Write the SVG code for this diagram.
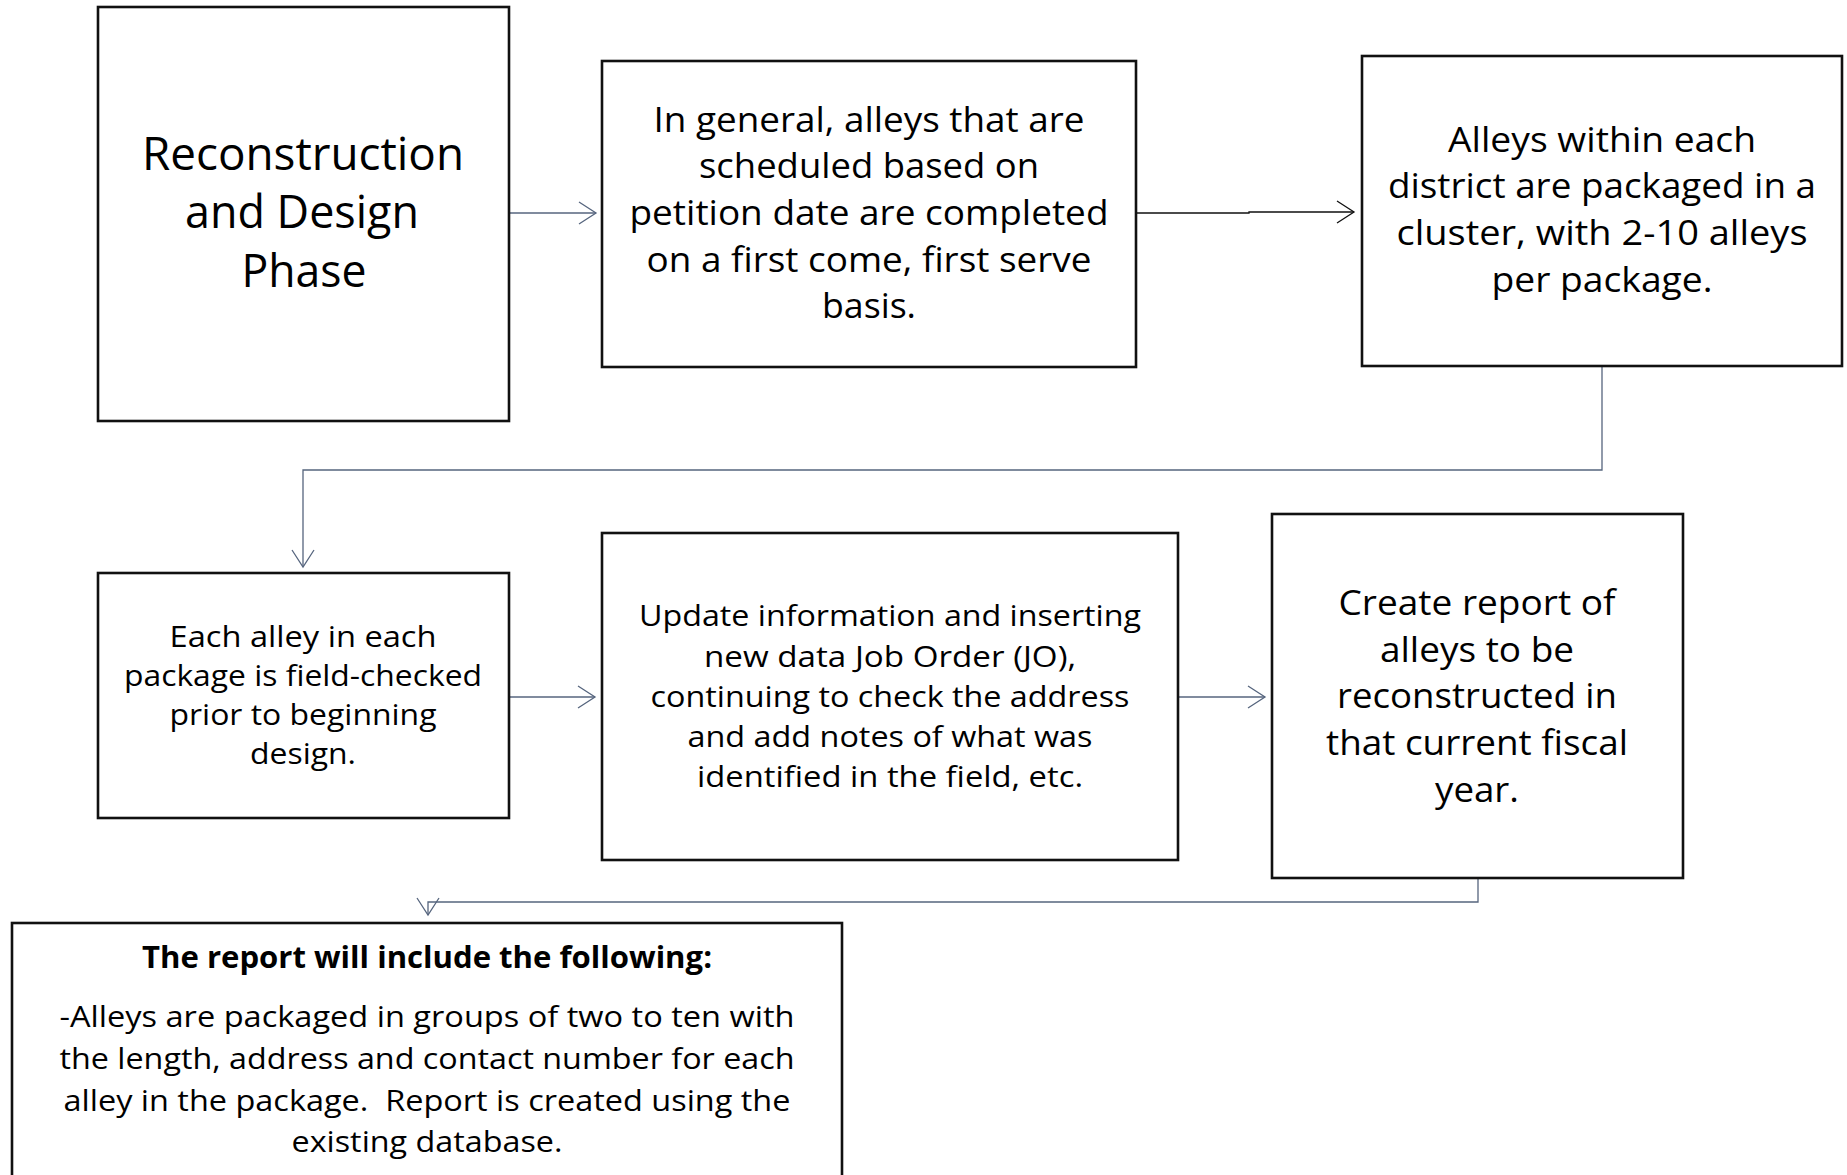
<svg xmlns="http://www.w3.org/2000/svg" width="1847" height="1175" viewBox="0 0 1847 1175">
  <defs>
    <marker id="open-arrow-slate" markerUnits="userSpaceOnUse" markerWidth="24" markerHeight="28" refX="18" refY="12" orient="auto" overflow="visible">
      <path d="M1,1 L18,12 L1,23" fill="none" stroke="#56657E" stroke-width="1.3"/>
    </marker>
    <marker id="open-arrow-black" markerUnits="userSpaceOnUse" markerWidth="24" markerHeight="28" refX="18" refY="12" orient="auto" overflow="visible">
      <path d="M1,1 L18,12 L1,23" fill="none" stroke="#111111" stroke-width="1.3"/>
    </marker>
  </defs>
  <style>
    .box { fill: #ffffff; stroke: #111111; stroke-width: 2.6; }
    .t { font-family: "Open Sans", "Noto Sans", sans-serif; fill: #000000; text-anchor: middle; }
    .big { font-size: 46px; }
    .mid { font-size: 34px; }
    .small { font-size: 29px; }
    .rep { font-size: 30px; }
    .bold { font-weight: bold; }
    .conn { fill: none; stroke: #56657E; stroke-width: 1.3; marker-end: url(#open-arrow-slate); }
    .conn.dark { stroke: #111111; marker-end: url(#open-arrow-black); }
  </style>

  <rect width="1847" height="1175" fill="#ffffff"/>

  <!-- connectors -->
  <g id="connectors">
    <path class="conn" d="M509,213 H596"/>
    <path class="conn dark" d="M1136,213 H1249 V212 H1354"/>
    <path class="conn" d="M1602,366 V470 H303 V567"/>
    <path class="conn" d="M509,697 H595"/>
    <path class="conn" d="M1178,697 H1265"/>
    <path class="conn" d="M1478,878 V902 H428 V915"/>
  </g>

  <!-- phase title -->
  <g id="phase">
    <rect class="box" x="98" y="7" width="411" height="414"/>
    <text class="t big" x="303" y="170" textLength="322" lengthAdjust="spacingAndGlyphs">Reconstruction</text>
    <text class="t big" x="302" y="228" textLength="234" lengthAdjust="spacingAndGlyphs">and Design</text>
    <text class="t big" x="304" y="287" textLength="125" lengthAdjust="spacingAndGlyphs">Phase</text>
  </g>

  <!-- scheduling -->
  <g id="scheduling">
    <rect class="box" x="602" y="61" width="534" height="306"/>
    <text class="t mid" x="869" y="132" textLength="431" lengthAdjust="spacingAndGlyphs">In general, alleys that are</text>
    <text class="t mid" x="869" y="178" textLength="340" lengthAdjust="spacingAndGlyphs">scheduled based on</text>
    <text class="t mid" x="869" y="225" textLength="479" lengthAdjust="spacingAndGlyphs">petition date are completed</text>
    <text class="t mid" x="869" y="272" textLength="445" lengthAdjust="spacingAndGlyphs">on a first come, first serve</text>
    <text class="t mid" x="869" y="318" textLength="94" lengthAdjust="spacingAndGlyphs">basis.</text>
  </g>

  <!-- packaging -->
  <g id="packaging">
    <rect class="box" x="1362" y="56" width="480" height="310"/>
    <text class="t mid" x="1602" y="152" textLength="308" lengthAdjust="spacingAndGlyphs">Alleys within each</text>
    <text class="t mid" x="1602" y="198" textLength="428" lengthAdjust="spacingAndGlyphs">district are packaged in a</text>
    <text class="t mid" x="1602" y="245" textLength="411" lengthAdjust="spacingAndGlyphs">cluster, with 2-10 alleys</text>
    <text class="t mid" x="1602" y="292" textLength="221" lengthAdjust="spacingAndGlyphs">per package.</text>
  </g>

  <!-- field check -->
  <g id="field-check">
    <rect class="box" x="98" y="573" width="411" height="245"/>
    <text class="t small" x="303" y="647" textLength="267" lengthAdjust="spacingAndGlyphs">Each alley in each</text>
    <text class="t small" x="303" y="686" textLength="358" lengthAdjust="spacingAndGlyphs">package is field-checked</text>
    <text class="t small" x="303" y="725" textLength="267" lengthAdjust="spacingAndGlyphs">prior to beginning</text>
    <text class="t small" x="303" y="764" textLength="106" lengthAdjust="spacingAndGlyphs">design.</text>
  </g>

  <!-- job order update -->
  <g id="job-order">
    <rect class="box" x="602" y="533" width="576" height="327"/>
    <text class="t small" x="890" y="626" textLength="502" lengthAdjust="spacingAndGlyphs">Update information and inserting</text>
    <text class="t small" x="890" y="667" textLength="372" lengthAdjust="spacingAndGlyphs">new data Job Order (JO),</text>
    <text class="t small" x="890" y="707" textLength="479" lengthAdjust="spacingAndGlyphs">continuing to check the address</text>
    <text class="t small" x="890" y="747" textLength="405" lengthAdjust="spacingAndGlyphs">and add notes of what was</text>
    <text class="t small" x="890" y="787" textLength="386" lengthAdjust="spacingAndGlyphs">identified in the field, etc.</text>
  </g>

  <!-- yearly report -->
  <g id="yearly-report">
    <rect class="box" x="1272" y="514" width="411" height="364"/>
    <text class="t mid" x="1477" y="615" textLength="277" lengthAdjust="spacingAndGlyphs">Create report of</text>
    <text class="t mid" x="1477" y="662" textLength="194" lengthAdjust="spacingAndGlyphs">alleys to be</text>
    <text class="t mid" x="1477" y="708" textLength="280" lengthAdjust="spacingAndGlyphs">reconstructed in</text>
    <text class="t mid" x="1477" y="755" textLength="302" lengthAdjust="spacingAndGlyphs">that current fiscal</text>
    <text class="t mid" x="1477" y="802" textLength="84" lengthAdjust="spacingAndGlyphs">year.</text>
  </g>

  <!-- report contents -->
  <g id="report-contents">
    <rect class="box" x="12" y="923" width="830" height="280"/>
    <text class="t rep bold" x="427" y="968" textLength="570" lengthAdjust="spacingAndGlyphs">The report will include the following:</text>
    <text class="t rep" x="427" y="1027" textLength="735" lengthAdjust="spacingAndGlyphs">-Alleys are packaged in groups of two to ten with</text>
    <text class="t rep" x="427" y="1069" textLength="735" lengthAdjust="spacingAndGlyphs">the length, address and contact number for each</text>
    <text class="t rep" x="427" y="1111" textLength="727" lengthAdjust="spacingAndGlyphs">alley in the package.&#160; Report is created using the</text>
    <text class="t rep" x="427" y="1152" textLength="271" lengthAdjust="spacingAndGlyphs">existing database.</text>
  </g>
</svg>
